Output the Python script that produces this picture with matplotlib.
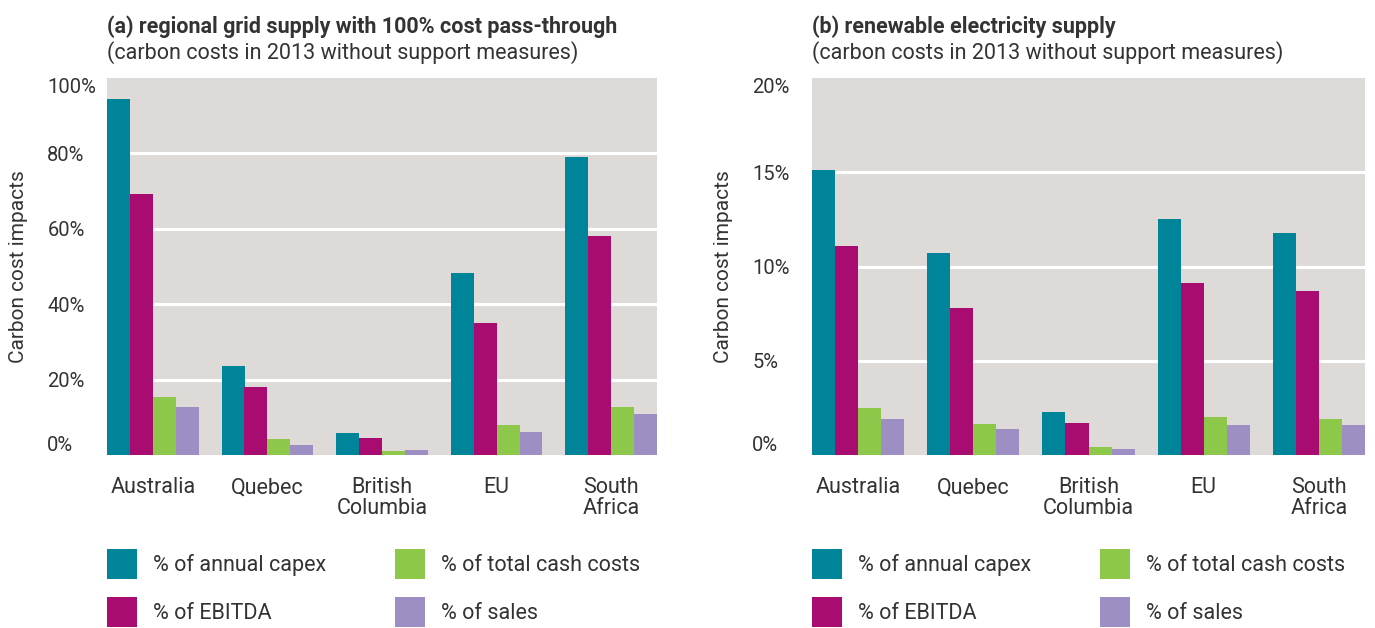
import numpy as np
import matplotlib.pyplot as plt
from matplotlib.patches import Patch

# --- dane ---
regions = ["Australia", "Quebec", "British\nColumbia", "EU", "South\nAfrica"]
series = ["% of annual capex", "% of EBITDA", "% of total cash costs", "% of sales"]

grid_capex = [94.4, 23.7, 5.9, 48.3, 79.0]
grid_ebitda = [69.2, 18.1, 4.6, 35.0, 58.1]
grid_cash = [15.4, 4.3, 1.1, 8.0, 12.8]
grid_sales = [12.8, 2.7, 1.4, 6.2, 10.9]

ren_capex = [15.1, 10.7, 2.3, 12.5, 11.8]
ren_ebitda = [11.1, 7.8, 1.7, 9.1, 8.7]
ren_cash = [2.5, 1.65, 0.44, 2.0, 1.9]
ren_sales = [1.9, 1.4, 0.33, 1.6, 1.6]

colors = ["#00849A", "#A90C71", "#8DC84A", "#9D8FC4"]
bg = "#DEDAD7"
txt = "#333333"

plt.rcParams['font.family'] = ['Roboto', 'DejaVu Sans']
plt.rcParams['text.color'] = txt


def draw_panel(ax, data, yticks, ymax, title, subtitle):
    x = np.arange(len(regions))
    w = 0.2
    for i, vals in enumerate(data):
        ax.bar(x - 0.3 + i * w, vals, width=w, color=colors[i], zorder=3,
               linewidth=0, label=series[i])
    ax.set_facecolor(bg)
    ax.set_xlim(-0.4, len(regions) - 0.6)
    ax.set_ylim(0, ymax)
    ax.set_yticks(yticks)
    ax.set_yticklabels([f"{t}%" for t in yticks])
    for t in yticks[1:-1]:
        ax.axhline(t, color="white", lw=2.2, zorder=1)
    ax.set_xticks(x)
    ax.set_xticklabels(regions, fontsize=15.5, color=txt, linespacing=1.0)
    for s in ax.spines.values():
        s.set_visible(False)
    ax.tick_params(axis="both", length=0, colors=txt)
    ax.tick_params(axis="y", labelsize=14.5, pad=43)
    ax.tick_params(axis="x", pad=16)
    labs = ax.get_yticklabels()
    for lab in labs:
        lab.set_horizontalalignment("left")
    # skrajne etykiety wewnątrz obszaru wykresu
    labs[0].set_verticalalignment("bottom")
    labs[-1].set_verticalalignment("top")
    ax.set_ylabel("Carbon cost impacts", fontsize=15, color=txt)
    ax.yaxis.set_label_coords(-0.143, 0.5)
    ax.text(0, 1.135, title, transform=ax.transAxes, fontsize=15.5,
            fontweight="bold", color=txt, va="center")
    ax.text(0, 1.068, subtitle, transform=ax.transAxes, fontsize=15.5,
            color=txt, va="center")
    handles = [Patch(facecolor=c, edgecolor="none") for c in colors]
    ax.legend(handles, series, loc="upper left", bbox_to_anchor=(0, -0.25),
              ncol=2, frameon=False, fontsize=15.5, handlelength=1.39,
              handleheight=1.77, handletextpad=0.74, labelspacing=0.84,
              columnspacing=3.2, borderpad=0, borderaxespad=0)


fig = plt.figure(figsize=(13.75, 6.28), dpi=100)
ax1 = fig.add_axes([107 / 1375, 1 - 455 / 628, 550 / 1375, 377 / 628])
ax2 = fig.add_axes([812 / 1375, 1 - 455 / 628, 553 / 1375, 377 / 628])

draw_panel(ax1, [grid_capex, grid_ebitda, grid_cash, grid_sales],
           [0, 20, 40, 60, 80, 100], 100,
           "(a) regional grid supply with 100% cost pass-through",
           "(carbon costs in 2013 without support measures)")
draw_panel(ax2, [ren_capex, ren_ebitda, ren_cash, ren_sales],
           [0, 5, 10, 15, 20], 20,
           "(b) renewable electricity supply",
           "(carbon costs in 2013 without support measures)")

fig.savefig("out.png", dpi=100, facecolor="white")
